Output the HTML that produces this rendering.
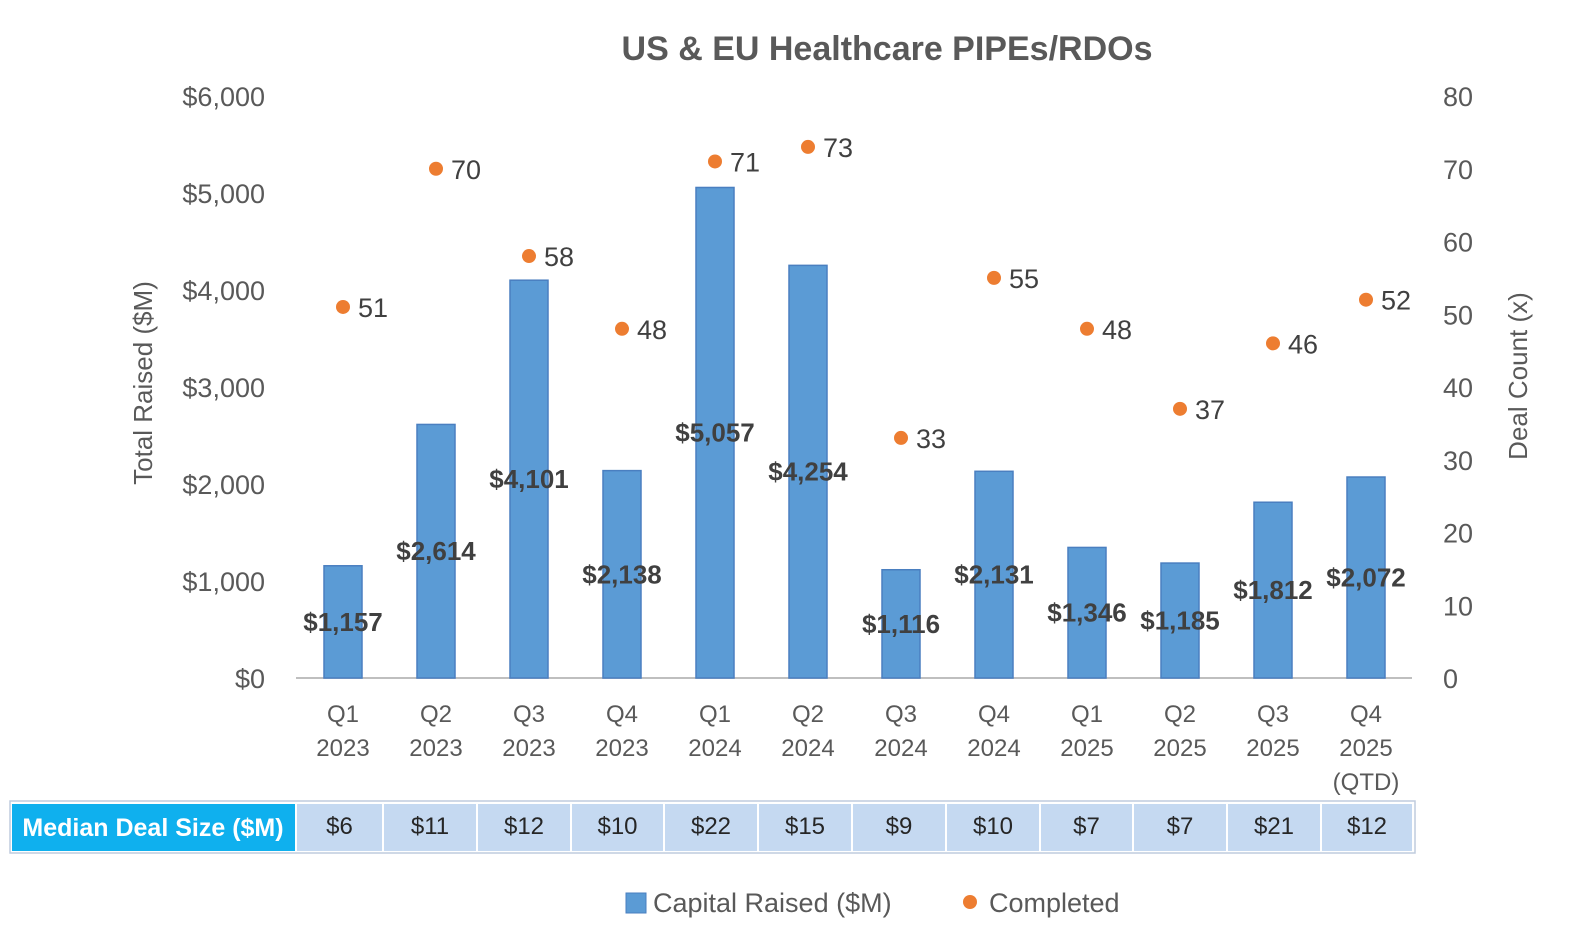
<!DOCTYPE html>
<html><head><meta charset="utf-8"><style>
body{margin:0;background:#fff;}
svg{display:block;font-family:"Liberation Sans",sans-serif;}
</style></head><body>
<svg id="c" width="1576" height="942" viewBox="0 0 1576 942">
<text x="887" y="60" text-anchor="middle" font-size="34" font-weight="bold" fill="#595959">US &amp; EU Healthcare PIPEs/RDOs</text>
<text transform="translate(152,383) rotate(-90)" text-anchor="middle" font-size="26" fill="#595959">Total Raised ($M)</text>
<text transform="translate(1527,376) rotate(-90)" text-anchor="middle" font-size="26" fill="#595959">Deal Count (x)</text>
<g id="g"></g>
<g>
<rect x="626" y="893" width="20" height="20" fill="#5B9BD5" stroke="#4a7fc0"/>
<text x="653" y="912" font-size="27" fill="#595959">Capital Raised ($M)</text>
<circle cx="970" cy="902" r="7" fill="#ED7D31"/>
<text x="989" y="912" font-size="27" fill="#595959">Completed</text>
</g>
</svg>
<script>
const quarters=["Q1","Q2","Q3","Q4","Q1","Q2","Q3","Q4","Q1","Q2","Q3","Q4"];
const years=["2023","2023","2023","2023","2024","2024","2024","2024","2025","2025","2025","2025"];
const capital=[1157,2614,4101,2138,5057,4254,1116,2131,1346,1185,1812,2072];
const deals=[51,70,58,48,71,73,33,55,48,37,46,52];
const medians=["$6","$11","$12","$10","$22","$15","$9","$10","$7","$7","$21","$12"];
const leftTicks=[0,1000,2000,3000,4000,5000,6000];
const rightTicks=[0,10,20,30,40,50,60,70,80];
const NS="http://www.w3.org/2000/svg";
const g=document.getElementById('g');
const y0=678,y1=96;
const yL=v=>y0-(v/6000)*(y0-y1);
const yR=v=>y0-(v/80)*(y0-y1);
const xC=i=>343+i*93;
function mk(t,a,txt){const e=document.createElementNS(NS,t);for(const k in a)e.setAttribute(k,a[k]);if(txt!==undefined)e.textContent=txt;g.appendChild(e);return e;}
const fmt=v=>"$"+v.toLocaleString("en-US");
leftTicks.forEach(v=>{const e=mk('text',{x:265,y:yL(v)+10,'text-anchor':'end','font-size':27,fill:'#595959'},fmt(v));

});
rightTicks.forEach(v=>{const e=mk('text',{x:1443,y:yR(v)+10,'font-size':27,fill:'#595959'},v);

});
const ax=mk('line',{x1:296,x2:1412,y1:y0,y2:y0,stroke:'#BFBFBF','stroke-width':2});


capital.forEach((v,i)=>{const x=xC(i);
const b=mk('rect',{x:x-19,y:yL(v),width:38,height:y0-yL(v),fill:'#5B9BD5',stroke:'#4a7fc0','stroke-width':1.5});


const l=mk('text',{x:x,y:(yL(v)+y0)/2+9,'text-anchor':'middle','font-size':26,'font-weight':'bold',fill:'#404040'},fmt(v));


const q=mk('text',{x:x,y:722,'text-anchor':'middle','font-size':24,fill:'#595959'},quarters[i]);


const yy=mk('text',{x:x,y:756,'text-anchor':'middle','font-size':24,fill:'#595959'},years[i]);


});
const qtd=mk('text',{x:xC(11),y:790,'text-anchor':'middle','font-size':24,fill:'#595959'},'(QTD)');


deals.forEach((v,i)=>{const x=xC(i);
const c=mk('circle',{cx:x,cy:yR(v),r:7,fill:'#ED7D31'});


const t=mk('text',{x:x+15,y:yR(v)+10,'font-size':27,fill:'#404040'},v);


});
// table
const ob=mk('rect',{x:10,y:801,width:1405,height:52,fill:'none',stroke:'#BFCCDD','stroke-width':1.5});


const hc=mk('rect',{x:12,y:804,width:283,height:47,fill:'#0FB0EE'});


const ht=mk('text',{x:153,y:836,'text-anchor':'middle','font-size':25,'font-weight':'bold',fill:'#fff'},'Median Deal Size ($M)');


const bounds=[297,384,478,572,665,759,853,947,1041,1134,1228,1322,1414];
medians.forEach((m,i)=>{
const r=mk('rect',{x:bounds[i],y:804,width:bounds[i+1]-bounds[i]-2,height:47,fill:'#C5D9F1'});


const t=mk('text',{x:(bounds[i]+bounds[i+1])/2-1,y:834,'text-anchor':'middle','font-size':24,fill:'#262626'},m);


});
</script>
</body></html>
